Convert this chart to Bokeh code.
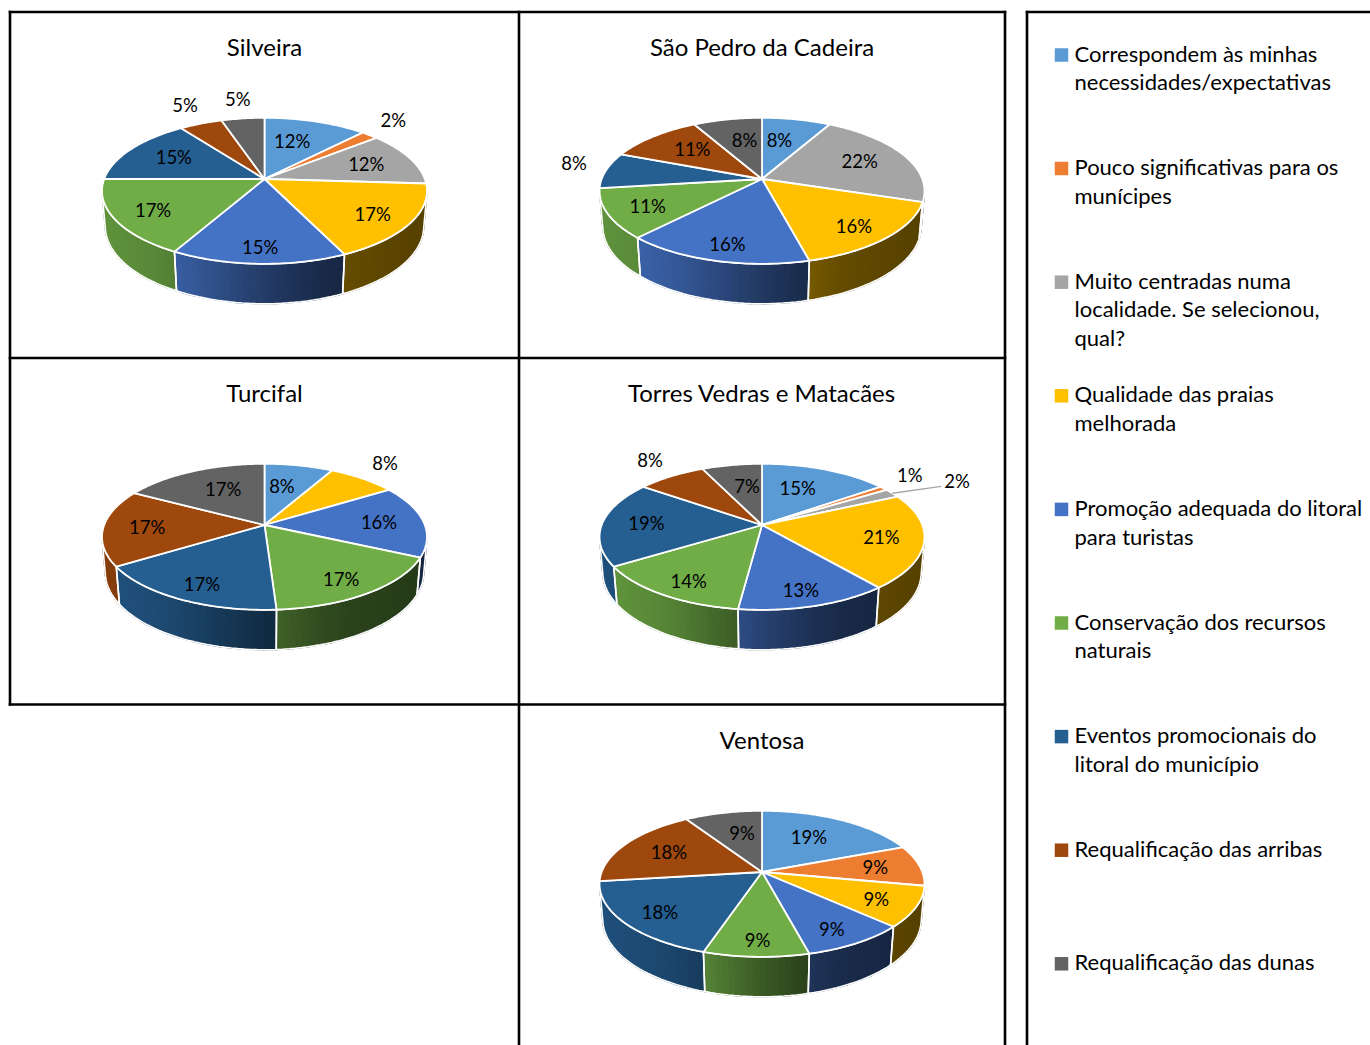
import numpy as np
from bokeh.plotting import figure
from bokeh.models import Range1d
from bokeh.core.properties import value
from bokeh.embed import file_html
from bokeh.resources import INLINE

# ---------------------------------------------------------------- data
categories = [
    "Correspondem às minhas\nnecessidades/expectativas",
    "Pouco significativas para os\nmunícipes",
    "Muito centradas numa\nlocalidade. Se selecionou,\nqual?",
    "Qualidade das praias\nmelhorada",
    "Promoção adequada do litoral\npara turistas",
    "Conservação dos recursos\nnaturais",
    "Eventos promocionais do\nlitoral do município",
    "Requalificação das arribas",
    "Requalificação das dunas",
]
colors = ["#5B9BD5", "#ED7D31", "#A5A5A5", "#FFC000", "#4472C4",
          "#70AD47", "#255E91", "#9E480E", "#636363"]

localities = ["Silveira", "São Pedro da Cadeira", "Turcifal",
              "Torres Vedras e Matacães", "Ventosa"]

# percentage of answers per category (same order as categories)
silveira = [12, 2, 12, 17, 15, 17, 15, 5, 5]
sao_pedro = [8, 0, 22, 16, 16, 11, 8, 11, 8]
turcifal = [8, 0, 0, 8, 16, 17, 17, 17, 17]
torres_matacaes = [15, 1, 2, 21, 13, 14, 19, 8, 7]
ventosa = [19, 9, 0, 9, 9, 9, 18, 18, 9]
shares = [silveira, sao_pedro, turcifal, torres_matacaes, ventosa]

# -------------------------------------------------------------- layout
W, H = 1370, 1045
FONT = value("Lato")
LABEL_SIZE = 18.5
# (left, right, top) of the box holding each pie
panels = [(10, 518, 11), (518, 1005, 11), (10, 518, 357),
          (518, 1005, 357), (518, 1005, 704)]
# labels drawn outside the slice, optionally with a leader line
outside = [{1: "out", 7: "out", 8: "out"}, {6: "out"}, {3: "out"},
           {1: "out", 2: "lead", 7: "out"}, {}]

# 3-D view of the pie: tilt, camera distance, focal length, slab thickness
SIN_E, COS_E = 0.4434, 0.8963
DIST, FOCAL, THICK = 5.53, 886.6, 0.25
WALL_LIMIT = np.degrees(np.arccos(-1.0 / (DIST * COS_E)))


def project(cx, cy, r, theta, z=0.0):
    t = np.radians(theta)
    x, y = r * np.sin(t), r * np.cos(t)
    depth = y * COS_E + DIST - z * SIN_E
    return cx + x / depth * FOCAL, cy - (y * SIN_E + z * COS_E) / depth * FOCAL


def inside_label(cx, cy, theta):
    """Position of a label placed on the top face of a slice."""
    t = np.radians(theta)
    s, c = np.sin(t), np.cos(t)
    reach = 60.0 + 80.0 * abs(np.sin(t / 2.0))
    return cx + reach * s, cy - 54.0 * c + 14.0 * c * c


def smoothstep(u):
    u = np.clip(u, 0.0, 1.0)
    return u * u * (3 - 2 * u)


def shade(hex_color, f):
    rgb = [int(hex_color[i:i + 2], 16) for i in (1, 3, 5)]
    return "#%02x%02x%02x" % tuple(int(round(min(255, c * f))) for c in rgb)


p = figure(width=W, height=H, x_range=Range1d(0, W), y_range=Range1d(H, 0),
           output_backend="svg", toolbar_location=None, min_border=0,
           x_axis_type=None, y_axis_type=None)
p.grid.visible = False
p.outline_line_color = None
p.background_fill_color = "white"
p.border_fill_color = "white"

wall_xs, wall_ys, wall_cols = [], [], []
rim_xs, rim_ys = [], []
top_xs, top_ys, top_cols = [], [], []
lab_x, lab_y, lab_t = [], [], []
lead_xs, lead_ys = [], []
title_x, title_y = [], []

for k, (name, vals) in enumerate(zip(localities, shares)):
    left, right, top = panels[k]
    cx, cy = (left + right) / 2.0, top + 167.5
    title_x.append(cx)
    title_y.append(top + 35)
    total = float(sum(vals))
    start = 0.0
    for i, v in enumerate(vals):
        if v <= 0:
            continue
        a0, a1 = start, start + v / total * 360.0
        start = a1
        n = max(2, int(np.ceil(a1 - a0)))
        th = np.linspace(a0, a1, n + 1)
        px, py = project(cx, cy, 1.0, th)
        txs = [cx] + list(px)
        tys = [cy] + list(py)
        top_xs.append(txs)
        top_ys.append(tys)
        top_cols.append(colors[i])
        xmin, xmax = min(txs), max(txs)

        # outer wall, visible on the front half only
        w0, w1 = max(a0, WALL_LIMIT), min(a1, 360 - WALL_LIMIT)
        if w1 > w0:
            m = max(1, int(np.ceil((w1 - w0) / 2.0)))
            wt = np.linspace(w0, w1, m + 1)
            ux, uy = project(cx, cy, 1.0, wt)
            bx, by = project(cx, cy, 1.0, wt, -THICK)
            for j in range(m):
                xm = (ux[j] + ux[j + 1]) / 2.0
                tpos = (xm - xmin) / max(1.0, xmax - xmin)
                tm = (wt[j] + wt[j + 1]) / 2.0
                light = 0.45 + 0.4 * smoothstep((tm - 150.0) / 70.0)
                f = light * (1 - 0.25 * tpos)
                wall_xs.append([ux[j], ux[j + 1], bx[j + 1], bx[j]])
                wall_ys.append([uy[j], uy[j + 1], by[j + 1], by[j]])
                wall_cols.append(shade(colors[i], f))
            rim_xs.append(list(ux) + list(bx[::-1]))
            rim_ys.append(list(uy) + list(by[::-1]))

        # data label
        text = "%d%%" % v
        mid = (a0 + a1) / 2.0
        mode = outside[k].get(i)
        if mode is None:
            lx, ly = inside_label(cx, cy, mid)
        else:
            ax, ay = project(cx, cy, 1.15 if mode == "out" else 1.47, mid)
            d = np.array([ax - cx, ay - cy])
            d = d / np.hypot(*d)
            hw = 0.5 * LABEL_SIZE * (0.58 * (len(text) - 1) + 0.8)
            hh = 0.5 * LABEL_SIZE * 0.75
            off = hw * abs(d[0]) + hh * abs(d[1]) - 4
            lx, ly = ax + d[0] * off, ay + d[1] * off
            if mode == "lead":
                ly += 4
                rx, ry = project(cx, cy, 1.0, mid)
                lead_xs.append([rx, lx - hw - 3])
                lead_ys.append([ry, ly + 5])
            else:
                ly -= 5
        lab_x.append(lx)
        lab_y.append(ly)
        lab_t.append(text)

p.patches(wall_xs, wall_ys, fill_color=wall_cols, line_color=wall_cols,
          line_width=1.3)
p.patches(rim_xs, rim_ys, fill_alpha=0, line_color="white", line_width=1.6)
p.patches(top_xs, top_ys, fill_color=top_cols, line_color="white",
          line_width=1.8, line_join="round")
if lead_xs:
    p.multi_line(lead_xs, lead_ys, line_color="#A6A6A6", line_width=1.3)
p.text(lab_x, lab_y, text=lab_t, text_font=FONT,
       text_font_size="%.1fpx" % LABEL_SIZE, text_align="center",
       text_baseline="middle", text_color="#000000")
p.text(title_x, title_y, text=localities, text_font=FONT,
       text_font_size="24px", text_align="center",
       text_baseline="middle", text_color="#000000")

# panel frames
frame_xs = [[9.5, 1004.5], [9.5, 1004.5], [9.5, 1004.5], [9.5, 9.5],
            [518.5, 518.5], [1004.5, 1004.5], [1026.5, 1026.5],
            [1026.5, 1372]]
frame_ys = [[11.5, 11.5], [357.5, 357.5], [704, 704], [11.5, 704],
            [11.5, 1047], [11.5, 1047], [11.5, 1047], [11.5, 11.5]]
p.multi_line(frame_xs, frame_ys, line_color="black", line_width=2.6,
             line_cap="square")

# legend
sq_y, tx, ty, tt = [], [], [], []
for i, cat in enumerate(categories):
    first = 54.5 + i * 113.6
    sq_y.append(first)
    for j, line in enumerate(cat.split("\n")):
        tx.append(1074)
        ty.append(first - 2 + j * 28.7)
        tt.append(line)
p.rect([1061] * len(categories), sq_y, width=13.5, height=13.5,
       fill_color=colors, line_color=None)
p.text(tx, ty, text=tt, text_font=FONT, text_font_size="22px",
       text_align="left", text_baseline="middle", text_color="#000000")

open("out.html", "w").write(file_html(p, INLINE))
